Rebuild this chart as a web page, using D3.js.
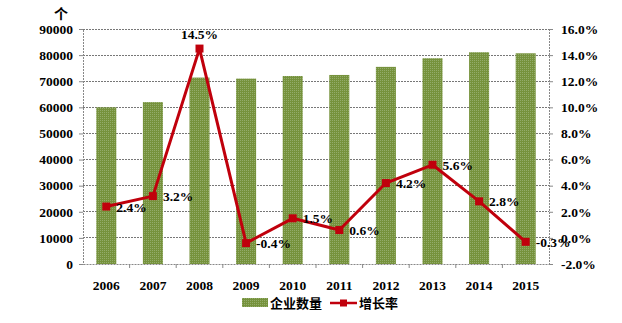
<!DOCTYPE html>
<html><head><meta charset="utf-8">
<script src="https://cdn.jsdelivr.net/npm/d3@7"></script>
<style>
body{margin:0;background:#fff;}
text{font-family:"Liberation Serif","Times New Roman",serif;font-weight:bold;fill:#000;}
.cjk{font-family:"Noto Sans CJK SC",sans-serif;font-weight:bold;}
</style></head>
<body><svg id="c" width="622" height="323"></svg>
<script>
const years = ["2006","2007","2008","2009","2010","2011","2012","2013","2014","2015"];
const companies = [60000,62000,71400,71000,72000,72400,75500,78800,81100,80700];
const growth = [2.4,3.2,14.5,-0.4,1.5,0.6,4.2,5.6,2.8,-0.3];
const growthLabels = ["2.4%","3.2%","14.5%","-0.4%","1.5%","0.6%","4.2%","5.6%","2.8%","-0.3%"];
const leftTicks = [0,10000,20000,30000,40000,50000,60000,70000,80000,90000];
const rightTicks = [-2,0,2,4,6,8,10,12,14,16];
const seriesNames = ["企业数量","增长率"];
const unitLabel = "个";

const svg = d3.select("#c");
const L=83, R=549, T=29, B=264;
const barColor="#76923C", lineColor="#C0000C";

const defs = svg.append("defs");
const pat = defs.append("pattern").attr("id","dots").attr("width",2).attr("height",2).attr("patternUnits","userSpaceOnUse");
pat.append("rect").attr("width",2).attr("height",2).attr("fill",barColor);
pat.append("rect").attr("width",1).attr("height",1).attr("fill","#93AC6A");

const x = d3.scaleBand().domain(years).range([L,R]).paddingInner(0.57).paddingOuter(0.285);
const xb = d3.scaleBand().domain(years).range([L,R]);
const yL = d3.scaleLinear().domain([0,90000]).range([B,T]);
const yR = d3.scaleLinear().domain([-2,16]).range([B,T]);

// grid
svg.append("g").selectAll("line").data(leftTicks.slice(1)).join("line")
  .attr("x1",L).attr("x2",R).attr("y1",d=>yL(d)).attr("y2",d=>yL(d))
  .attr("stroke","#777").attr("stroke-width",1).attr("stroke-dasharray","2,1").attr("shape-rendering","crispEdges");

// bars
svg.append("g").selectAll("rect").data(years).join("rect")
  .attr("x",d=>x(d)).attr("width",x.bandwidth())
  .attr("y",(d,i)=>yL(companies[i])).attr("height",(d,i)=>B-yL(companies[i]))
  .attr("fill","url(#dots)");

// axes
const gl = svg.append("g").attr("transform",`translate(${L},0)`)
  .call(d3.axisLeft(yL).tickValues(leftTicks).tickSize(4).tickPadding(6).tickFormat(d3.format("d")));
const gr = svg.append("g").attr("transform",`translate(${R},0)`)
  .call(d3.axisRight(yR).tickValues(rightTicks).tickSize(4).tickPadding(8).tickFormat(d=>d.toFixed(1)+"%"));
const gx = svg.append("g").attr("transform",`translate(0,${B})`)
  .call(d3.axisBottom(xb).tickSize(0).tickPadding(16));
[gl,gr,gx].forEach(g=>{
  g.select(".domain").attr("stroke","#888").attr("stroke-dasharray","2,1");
  g.selectAll(".tick line").attr("stroke","#888");
  g.selectAll("text").style("font-size","13.5px").style("font-family","'Liberation Serif',serif").style("font-weight","bold").attr("fill","#000");
});
// x-axis ticks at band boundaries
svg.append("g").selectAll("line").data(years.slice(1)).join("line")
  .attr("x1",d=>xb(d)).attr("x2",d=>xb(d)).attr("y1",B).attr("y2",B+4)
  .attr("stroke","#888");

// line
const line = d3.line().x((d,i)=>xb(years[i])+xb.bandwidth()/2).y(d=>yR(d));
svg.append("path").datum(growth).attr("d",line).attr("fill","none")
  .attr("stroke",lineColor).attr("stroke-width",3).attr("stroke-linejoin","round");
svg.append("g").selectAll("rect").data(growth).join("rect")
  .attr("x",(d,i)=>xb(years[i])+xb.bandwidth()/2-4).attr("y",d=>yR(d)-4)
  .attr("width",8).attr("height",8).attr("fill",lineColor);

// data labels
svg.append("g").selectAll("text").data(growth).join("text")
  .attr("x",(d,i)=> i===2 ? xb(years[i])+xb.bandwidth()/2 : xb(years[i])+xb.bandwidth()/2+10)
  .attr("y",(d,i)=> i===2 ? yR(d)-10 : yR(d)+5)
  .attr("text-anchor",(d,i)=> i===2?"middle":"start")
  .style("font-size","13.5px")
  .text((d,i)=>growthLabels[i]);

// unit
svg.append("text").attr("class","cjk").attr("x",61).attr("y",19).attr("text-anchor","middle").style("font-size","14px").text(unitLabel);

// legend
const lg = svg.append("g");
lg.append("rect").attr("x",242).attr("y",298).attr("width",26).attr("height",9).attr("fill","url(#dots)");
lg.append("text").attr("class","cjk").attr("x",270).attr("y",308).style("font-size","13px").text(seriesNames[0]);
lg.append("line").attr("x1",330).attr("x2",357).attr("y1",303).attr("y2",303).attr("stroke",lineColor).attr("stroke-width",2.5);
lg.append("rect").attr("x",340).attr("y",299.5).attr("width",7).attr("height",7).attr("fill",lineColor);
lg.append("text").attr("class","cjk").attr("x",359).attr("y",308).style("font-size","13px").text(seriesNames[1]);
</script></body></html>
